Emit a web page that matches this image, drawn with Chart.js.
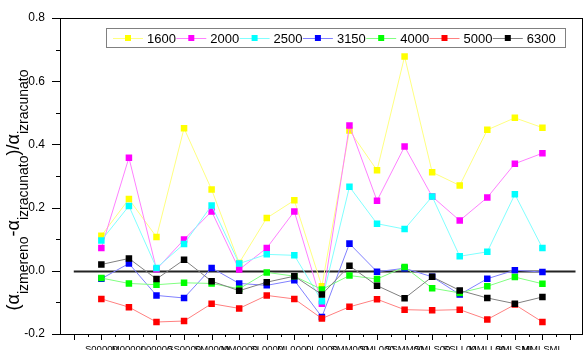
<!DOCTYPE html>
<html>
<head>
<meta charset="utf-8">
<script src="https://cdn.jsdelivr.net/npm/chart.js@4/dist/chart.umd.min.js"></script>
<style>
  html, body { margin: 0; padding: 0; background: #fff; overflow: hidden; }
  canvas { display: block; }
</style>
</head>
<body>
<canvas id="c" width="587" height="350"></canvas>
<script>
// Sample codes along the x axis
const categories = ['S00000', 'M00000', 'L00000', 'SS0000', 'SM0000', 'MM0000', 'SL0000', 'ML0000', 'LL0000',
                    'SMM000', 'SML000', 'SSMM00', 'SMLS00', 'SSLL00', 'MMLL00', 'SMLSML', 'MMLSML'];

// Frequency bands (Hz)
const seriesNames = ['1600', '2000', '2500', '3150', '4000', '5000', '6300'];

// Relative deviation (measured - calculated) / calculated, per band
const s1600 = [0.111, 0.227, 0.107, 0.451, 0.257, 0.025, 0.167, 0.223, -0.049, 0.444, 0.318, 0.678, 0.312, 0.270, 0.446, 0.484, 0.453];
const s2000 = [0.072, 0.358, 0.005, 0.099, 0.188, 0.004, 0.072, 0.188, -0.104, 0.460, 0.222, 0.393, 0.235, 0.159, 0.232, 0.339, 0.372];
const s2500 = [0.096, 0.205, 0.009, 0.085, 0.207, 0.023, 0.052, 0.049, -0.096, 0.266, 0.149, 0.132, 0.235, 0.046, 0.060, 0.242, 0.072];
const s3150 = [-0.025, 0.023, -0.078, -0.086, 0.009, -0.040, -0.046, -0.030, -0.146, 0.086, -0.003, 0.008, -0.019, -0.075, -0.025, 0.002, -0.004];
const s4000 = [-0.023, -0.040, -0.044, -0.038, -0.040, -0.057, -0.005, -0.017, -0.059, -0.015, -0.026, 0.012, -0.055, -0.070, -0.049, -0.020, -0.041];
const s5000 = [-0.089, -0.115, -0.162, -0.159, -0.104, -0.119, -0.078, -0.089, -0.151, -0.114, -0.090, -0.123, -0.125, -0.123, -0.154, -0.107, -0.162];
const s6300 = [0.020, 0.039, -0.026, 0.035, -0.033, -0.063, -0.036, -0.017, -0.075, 0.016, -0.047, -0.087, -0.019, -0.062, -0.086, -0.104, -0.083];

const yTickValues = [-0.2, 0.0, 0.2, 0.4, 0.6, 0.8];

const allSeries = [s1600, s2000, s2500, s3150, s4000, s5000, s6300];
const markerColors = ['#ffff00', '#ff00ff', '#00ffff', '#0000ff', '#00ff00', '#ff0000', '#000000'];
const lineColors   = ['#ffff80', '#ff80ff', '#80ffff', '#8080ff', '#80ff80', '#ff8080', '#808080'];

const FONT = '"Liberation Sans", Arial, Helvetica, sans-serif';

const datasets = allSeries.map((vals, k) => ({
  label: seriesNames[k],
  data: vals.map((v, i) => ({ x: i + 1, y: v })),
  borderColor: lineColors[k],
  backgroundColor: markerColors[k],
  borderWidth: 1,
  pointStyle: 'rect',
  pointRadius: 4.6,
  pointHoverRadius: 4.6,
  pointBackgroundColor: markerColors[k],
  pointBorderColor: markerColors[k],
  pointBorderWidth: 0,
  tension: 0,
  order: allSeries.length - k
}));

// frame, ticks and the zero reference line
const framePlugin = {
  id: 'frame',
  beforeDatasetsDraw(chart) {
    const { ctx, scales: { x, y } } = chart;
    ctx.save();
    ctx.strokeStyle = '#222';
    ctx.lineWidth = 2;
    const y0 = Math.round(y.getPixelForValue(0)) + 0.5;
    ctx.beginPath();
    ctx.moveTo(x.getPixelForValue(0), y0);
    ctx.lineTo(x.getPixelForValue(18.2), y0);
    ctx.stroke();
    ctx.restore();
  },
  afterDraw(chart) {
    const { ctx, chartArea: a, scales: { x, y } } = chart;
    ctx.save();
    ctx.strokeStyle = '#000';
    ctx.lineWidth = 1;
    ctx.strokeRect(Math.round(a.left) + 0.5, Math.round(a.top) + 0.5,
                   Math.round(a.right - a.left), Math.round(a.bottom - a.top));
    ctx.beginPath();
    // y ticks: major every 0.2, minor every 0.1
    for (let i = 0; i <= 10; i++) {
      const v = -0.2 + i * 0.1;
      const py = Math.round(y.getPixelForValue(v)) + 0.5;
      const len = (i % 2 === 0) ? 8 : 4;
      ctx.moveTo(a.left, py);
      ctx.lineTo(a.left - len, py);
    }
    // x ticks: major at each sample, minor halfway
    for (let i = 0; i <= 36; i++) {
      const v = i * 0.5;
      const px = Math.round(x.getPixelForValue(v)) + 0.5;
      const len = (i % 2 === 0) ? 6 : 3;
      ctx.moveTo(px, a.bottom);
      ctx.lineTo(px, a.bottom + len);
    }
    ctx.stroke();
    ctx.restore();
  }
};

// legend drawn inside the plot area
const insideLegend = {
  id: 'insideLegend',
  afterDraw(chart) {
    const ctx = chart.ctx;
    const boxX = 106.5, boxY = 28.5, boxW = 459, boxH = 19;
    ctx.save();
    ctx.fillStyle = '#fff';
    ctx.fillRect(boxX, boxY, boxW, boxH);
    ctx.strokeStyle = '#808080';
    ctx.lineWidth = 1;
    ctx.strokeRect(boxX, boxY, boxW, boxH);
    const cy = boxY + boxH / 2;
    ctx.font = '13px ' + FONT;
    ctx.textBaseline = 'middle';
    ctx.textAlign = 'left';
    seriesNames.forEach((name, k) => {
      const x0 = 113 + k * 63.3;
      ctx.strokeStyle = lineColors[k];
      ctx.beginPath();
      ctx.moveTo(x0, Math.round(cy) + 0.5);
      ctx.lineTo(x0 + 30, Math.round(cy) + 0.5);
      ctx.stroke();
      ctx.fillStyle = markerColors[k];
      ctx.fillRect(x0 + 15 - 3, Math.round(cy) - 3, 6, 6);
      ctx.fillStyle = '#000';
      ctx.fillText(name, x0 + 34, cy + 1);
    });
    ctx.restore();
  }
};

// vertical axis title with subscripts
const yTitle = {
  id: 'yTitle',
  afterDraw(chart) {
    const ctx = chart.ctx;
    const parts = [
      ['(\u03b1', false], ['izmereno', true], ['-\u03b1', false],
      ['izracunato', true], [')/\u03b1', false], ['izracunato', true]
    ];
    const mainFont = '18px ' + FONT;
    const subFont = '14px ' + FONT;
    ctx.save();
    let total = 0;
    const widths = parts.map(([t, sub]) => {
      ctx.font = sub ? subFont : mainFont;
      const w = ctx.measureText(t).width;
      total += w;
      return w;
    });
    ctx.translate(19, 190);
    ctx.rotate(-Math.PI / 2);
    ctx.fillStyle = '#000';
    ctx.textBaseline = 'alphabetic';
    ctx.textAlign = 'left';
    let pos = -total / 2;
    parts.forEach(([t, sub], i) => {
      ctx.font = sub ? subFont : mainFont;
      ctx.fillText(t, pos, sub ? 8.5 : 0);
      pos += widths[i];
    });
    ctx.restore();
  }
};

new Chart(document.getElementById('c'), {
  type: 'line',
  data: { datasets },
  options: {
    responsive: false,
    animation: false,
    devicePixelRatio: 1,
    layout: { padding: { top: 18, right: 2, bottom: 0, left: 0 } },
    plugins: { legend: { display: false }, tooltip: { enabled: false }, title: { display: false } },
    scales: {
      x: {
        type: 'linear',
        min: -0.5,
        max: 18.45,
        grid: { display: false, drawTicks: true, tickLength: 10 },
        border: { display: false },
        afterBuildTicks(scale) { scale.ticks = categories.map((c, i) => ({ value: i + 1 })); },
        afterFit(scale) { scale.height = 16; },
        ticks: {
          autoSkip: false,
          maxRotation: 0,
          minRotation: 0,
          padding: 0,
          color: '#000',
          font: { family: FONT, size: 9.5 },
          callback: (v) => categories[Math.round(v) - 1] || ''
        }
      },
      y: {
        min: -0.2,
        max: 0.8,
        grid: { display: false, drawTicks: true, tickLength: 15 },
        border: { display: false },
        afterBuildTicks(scale) { scale.ticks = yTickValues.map(v => ({ value: v })); },
        afterFit(scale) { scale.width = 60; },
        ticks: {
          padding: 0,
          color: '#000',
          font: { family: FONT, size: 12 },
          callback: (v) => Number(v).toFixed(1)
        }
      }
    }
  },
  plugins: [framePlugin, insideLegend, yTitle]
});
</script>
</body>
</html>
